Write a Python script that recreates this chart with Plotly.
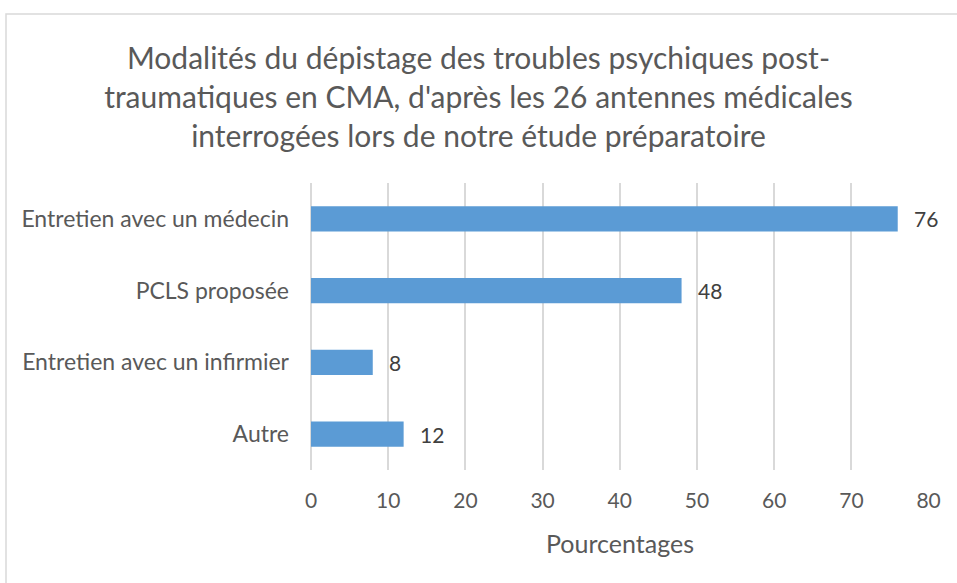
import plotly.graph_objects as go

categories = ["Entretien avec un médecin", "PCLS proposée", "Entretien avec un infirmier", "Autre"]
values = [76, 48, 8, 12]
x_ticks = [0, 10, 20, 30, 40, 50, 60, 70, 80]

title_text = ("Modalités du dépistage des troubles psychiques post-<br>"
              "traumatiques en CMA, d'après les 26 antennes médicales<br>"
              "interrogées lors de notre étude préparatoire")

FONT = "Lato"

fig = go.Figure()
fig.add_trace(go.Bar(
    x=values, y=categories, orientation="h",
    marker=dict(color="#5B9BD5", line=dict(width=0)),
    width=0.35, hoverinfo="x+y",
))

for v, c in zip(values, categories):
    fig.add_annotation(x=v, y=c, text=str(v), showarrow=False,
                       xanchor="left", xshift=14,
                       font=dict(family=FONT, size=21, color="#404040"))

fig.update_layout(
    width=957, height=583,
    margin=dict(l=311, r=28, t=183, b=113),
    paper_bgcolor="white", plot_bgcolor="white",
    showlegend=False,
    title=dict(text=title_text, x=0.5, xanchor="center", xref="container",
               y=1 - 69 / 583, yanchor="top", yref="container",
               font=dict(family=FONT, size=30, color="#595959")),
    xaxis=dict(range=[0, 80.05], tickvals=x_ticks, showgrid=True,
               gridcolor="#d9d9d9", gridwidth=1.5, zeroline=True,
               zerolinecolor="#d9d9d9", zerolinewidth=1.5,
               ticks="", ticklabelstandoff=16,
               tickfont=dict(family=FONT, size=21, color="#595959"),
               title=dict(text="Pourcentages", standoff=24,
                          font=dict(family=FONT, size=25, color="#595959"))),
    yaxis=dict(autorange="reversed", showgrid=False, ticks="",
               ticklabelstandoff=21,
               tickfont=dict(family=FONT, size=23, color="#595959")),
)

fig.add_shape(type="rect", xref="paper", yref="paper",
              x0=(6 - 311) / 618, x1=2.0, y0=-1.0, y1=(470 - 14) / 287,
              line=dict(color="#d9d9d9", width=1.5), layer="below")

fig.write_html("out.html", config={"displayModeBar": False},
               post_script="document.body.style.margin='0';document.body.style.overflow='hidden';")
